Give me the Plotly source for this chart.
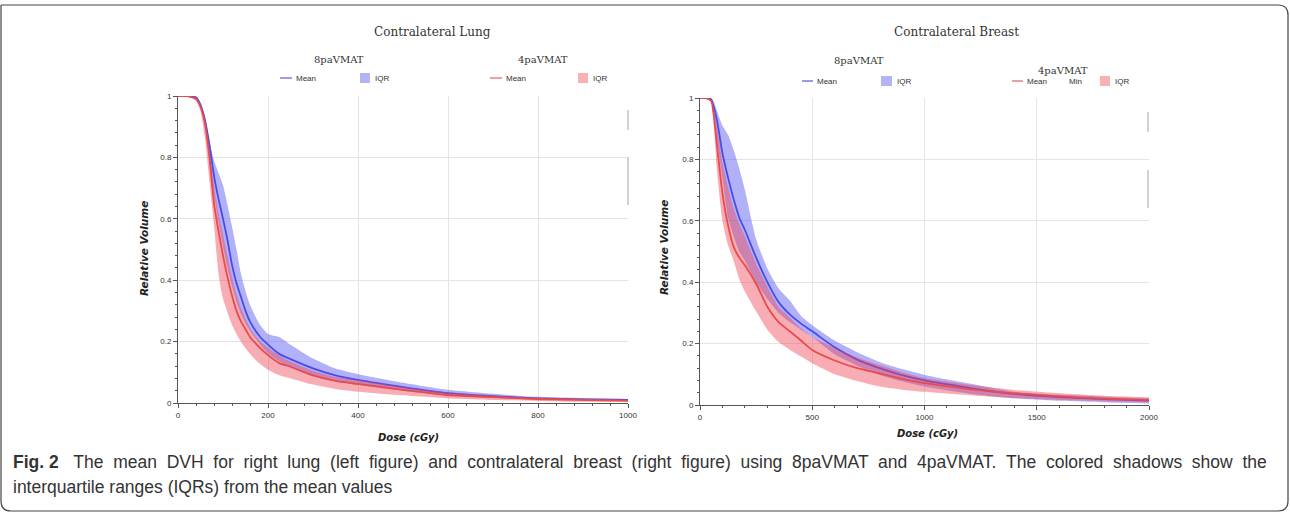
import plotly.graph_objects as go

# ---------------- data ----------------
lung_dose = [0, 20, 40, 50, 60, 70, 80, 90, 100, 110, 120, 130, 140, 150, 160, 180, 200,
             225, 250, 300, 350, 400, 500, 600, 700, 800, 900, 1000]
lung_8pa_mean = [1, 1, 0.995, 0.97, 0.92, 0.84, 0.74, 0.665, 0.60, 0.53, 0.45, 0.39, 0.345, 0.30,
                 0.265, 0.22, 0.19, 0.16, 0.143, 0.113, 0.09, 0.075, 0.052, 0.032, 0.022, 0.015, 0.012, 0.01]
lung_8pa_q1 = [1, 1, 0.99, 0.965, 0.9, 0.79, 0.68, 0.59, 0.51, 0.44, 0.38, 0.33, 0.29, 0.26,
               0.235, 0.195, 0.162, 0.135, 0.118, 0.092, 0.072, 0.059, 0.04, 0.025, 0.016, 0.011, 0.008, 0.006]
lung_8pa_q3 = [1, 1, 1, 0.98, 0.935, 0.85, 0.79, 0.75, 0.71, 0.645, 0.575, 0.50, 0.42, 0.365,
               0.32, 0.26, 0.225, 0.215, 0.19, 0.145, 0.112, 0.094, 0.066, 0.043, 0.03, 0.02, 0.016, 0.013]
lung_4pa_mean = [1, 1, 0.99, 0.965, 0.91, 0.8, 0.65, 0.56, 0.48, 0.41, 0.35, 0.30, 0.265, 0.24,
                 0.215, 0.183, 0.156, 0.13, 0.118, 0.09, 0.072, 0.062, 0.043, 0.026, 0.019, 0.013, 0.01, 0.008]
lung_4pa_q1 = [1, 1, 0.985, 0.95, 0.86, 0.72, 0.58, 0.42, 0.34, 0.295, 0.255, 0.225, 0.2, 0.178,
               0.16, 0.13, 0.108, 0.09, 0.08, 0.06, 0.046, 0.037, 0.025, 0.015, 0.01, 0.006, 0.004, 0.003]
lung_4pa_q3 = [1, 1, 0.995, 0.97, 0.92, 0.82, 0.71, 0.62, 0.55, 0.48, 0.41, 0.355, 0.31, 0.275,
               0.245, 0.205, 0.18, 0.155, 0.135, 0.105, 0.085, 0.075, 0.052, 0.034, 0.024, 0.017, 0.013, 0.01]

breast_dose = [0, 25, 50, 60, 75, 100, 125, 150, 175, 200, 250, 300, 350, 400, 450, 500, 600,
               700, 800, 900, 1000, 1200, 1400, 1600, 1800, 2000]
breast_8pa_mean = [1, 1, 0.995, 0.975, 0.93, 0.82, 0.74, 0.67, 0.61, 0.57, 0.48, 0.40, 0.335, 0.295,
                   0.265, 0.24, 0.188, 0.148, 0.12, 0.097, 0.08, 0.056, 0.036, 0.026, 0.019, 0.014]
breast_8pa_q1 = [1, 1, 0.99, 0.96, 0.87, 0.74, 0.61, 0.55, 0.5, 0.47, 0.4, 0.345, 0.30, 0.27,
                 0.245, 0.222, 0.165, 0.128, 0.098, 0.077, 0.06, 0.037, 0.022, 0.014, 0.009, 0.005]
breast_8pa_q3 = [1, 1, 1, 0.99, 0.96, 0.91, 0.88, 0.83, 0.77, 0.70, 0.54, 0.445, 0.38, 0.34,
                 0.29, 0.26, 0.21, 0.172, 0.14, 0.117, 0.098, 0.07, 0.043, 0.033, 0.027, 0.022]
breast_4pa_mean = [1, 1, 0.99, 0.95, 0.85, 0.69, 0.585, 0.515, 0.48, 0.455, 0.395, 0.32, 0.27, 0.24,
                   0.21, 0.179, 0.145, 0.12, 0.103, 0.085, 0.071, 0.052, 0.038, 0.028, 0.021, 0.016]
breast_4pa_q1 = [1, 1, 0.985, 0.93, 0.77, 0.6, 0.52, 0.47, 0.41, 0.37, 0.305, 0.245, 0.205, 0.18,
                 0.158, 0.136, 0.1, 0.078, 0.06, 0.05, 0.043, 0.032, 0.022, 0.016, 0.012, 0.009]
breast_4pa_q3 = [1, 1, 0.995, 0.97, 0.91, 0.79, 0.71, 0.64, 0.59, 0.55, 0.46, 0.385, 0.32, 0.285,
                 0.25, 0.222, 0.185, 0.155, 0.13, 0.107, 0.088, 0.066, 0.049, 0.038, 0.03, 0.025]

chart_titles = ["Contralateral Lung", "Contralateral Breast"]
group_names = ["8paVMAT", "4paVMAT"]
x_title = "Dose (cGy)"
y_title = "Relative Volume"
caption_bold = "Fig. 2"
caption_line1 = ("The mean DVH for right lung (left figure) and contralateral breast (right figure) "
                 "using 8paVMAT and 4paVMAT. The colored shadows show the")
caption_line2 = "interquartile ranges (IQRs) from the mean values"

# ---------------- styling ----------------
W, H = 1290, 514
BLUE_LINE = "#4b4be8"
RED_LINE = "#e84b4b"
BLUE_FILL = "rgba(85,85,245,0.46)"
RED_FILL = "rgba(240,72,88,0.45)"


def fx(px):
    return px / W


def fy(py):
    return 1 - py / H


fig = go.Figure()


def add_group(dose, mean, q1, q3, line_col, fill_col, xa, ya, name):
    fig.add_trace(go.Scatter(x=dose, y=q1, mode="lines", line=dict(width=0, shape="spline", smoothing=0.6),
                             hoverinfo="skip", showlegend=False, xaxis=xa, yaxis=ya, name=name + " Q1"))
    fig.add_trace(go.Scatter(x=dose, y=q3, mode="lines", line=dict(width=0, shape="spline", smoothing=0.6),
                             fill="tonexty", fillcolor=fill_col, showlegend=False, xaxis=xa, yaxis=ya,
                             name=name + " IQR"))
    fig.add_trace(go.Scatter(x=dose, y=mean, mode="lines",
                             line=dict(width=1.8, color=line_col, shape="spline", smoothing=0.6),
                             showlegend=False, xaxis=xa, yaxis=ya, name=name + " Mean"))


add_group(lung_dose, lung_8pa_mean, lung_8pa_q1, lung_8pa_q3, BLUE_LINE, BLUE_FILL, "x", "y", "8paVMAT")
add_group(lung_dose, lung_4pa_mean, lung_4pa_q1, lung_4pa_q3, RED_LINE, RED_FILL, "x", "y", "4paVMAT")
add_group(breast_dose, breast_8pa_mean, breast_8pa_q1, breast_8pa_q3, BLUE_LINE, BLUE_FILL, "x2", "y2", "8paVMAT")
add_group(breast_dose, breast_4pa_mean, breast_4pa_q1, breast_4pa_q3, RED_LINE, RED_FILL, "x2", "y2", "4paVMAT")

tick_font = dict(family="Liberation Sans, Arial, sans-serif", size=8, color="#333")
axis_common = dict(showgrid=True, gridcolor="#e4e4e4", gridwidth=1, zeroline=False,
                   showline=True, linecolor="#555", linewidth=1, ticks="outside", ticklen=4,
                   tickcolor="#555", tickfont=tick_font, automargin=False, fixedrange=True)

fig.update_layout(
    width=W, height=H,
    margin=dict(l=0, r=0, t=0, b=0),
    paper_bgcolor="white", plot_bgcolor="white",
    xaxis=dict(domain=[fx(178), fx(628)], range=[0, 1000], dtick=200, anchor="y",
               minor=dict(dtick=40, ticks="outside", ticklen=2, tickcolor="#555", showgrid=False),
               **axis_common),
    yaxis=dict(domain=[fy(403), fy(96)], range=[0, 1], dtick=0.2, anchor="x",
               minor=dict(dtick=0.04, ticks="outside", ticklen=2, tickcolor="#555", showgrid=False),
               **axis_common),
    xaxis2=dict(domain=[fx(700), fx(1149)], range=[0, 2000], dtick=500, anchor="y2",
                minor=dict(dtick=100, ticks="outside", ticklen=2, tickcolor="#555", showgrid=False),
                **axis_common),
    yaxis2=dict(domain=[fy(405), fy(98)], range=[0, 1], dtick=0.2, anchor="x2",
                minor=dict(dtick=0.04, ticks="outside", ticklen=2, tickcolor="#555", showgrid=False),
                **axis_common),
)

annotations = []
shapes = []

serif = "DejaVu Serif, Liberation Serif, serif"
sans = "Liberation Sans, Arial, sans-serif"


def text(px, py, s, size, family=sans, xanchor="center", color="#333", **kw):
    annotations.append(dict(x=fx(px), y=fy(py), xref="paper", yref="paper", text=s, showarrow=False,
                            xanchor=xanchor, yanchor="middle", font=dict(family=family, size=size, color=color),
                            **kw))


# titles
text(432, 32, chart_titles[0], 12, serif)
text(956, 32, chart_titles[1], 12, serif)
text(339, 59, group_names[0], 10, serif)
text(543, 59, group_names[1], 10, serif)
text(859, 60, group_names[0], 10, serif)
text(1063, 71, group_names[1], 10, serif)


# legends
def leg_line(x0, x1, y, col):
    shapes.append(dict(type="line", xref="paper", yref="paper", x0=fx(x0), x1=fx(x1), y0=fy(y), y1=fy(y),
                       line=dict(color=col, width=1.5)))


def leg_box(x0, x1, y, col):
    shapes.append(dict(type="rect", xref="paper", yref="paper", x0=fx(x0), x1=fx(x1), y0=fy(y + 5), y1=fy(y - 5),
                       fillcolor=col, line=dict(width=0)))


LEG_BLUE = "#7b7be6"
LEG_RED = "#e88080"
BOX_BLUE = "#b3b3f7"
BOX_RED = "#f5b3b3"

leg_line(280, 292, 78, LEG_BLUE); text(294, 78, "Mean", 8, xanchor="left")
leg_box(360, 370, 78, BOX_BLUE); text(373, 78, "IQR", 8, xanchor="left")
leg_line(490, 502, 78, LEG_RED); text(504, 78, "Mean", 8, xanchor="left")
leg_box(578, 588, 78, BOX_RED); text(591, 78, "IQR", 8, xanchor="left")

leg_line(802, 813, 81, LEG_BLUE); text(815, 81, "Mean", 8, xanchor="left")
leg_box(881, 892, 81, BOX_BLUE); text(895, 81, "IQR", 8, xanchor="left")
leg_line(1012, 1023, 81, LEG_RED); text(1025, 81, "Mean", 8, xanchor="left")
text(1067, 81, "Min", 8, xanchor="left")
leg_box(1100, 1110, 81, BOX_RED); text(1113, 81, "IQR", 8, xanchor="left")

# axis titles
ax_font = "DejaVu Sans, Liberation Sans, sans-serif"
for (px, py) in [(144, 249), (664, 248)]:
    annotations.append(dict(x=fx(px), y=fy(py), xref="paper", yref="paper", text="<b><i>" + y_title + "</i></b>",
                            showarrow=False, textangle=-90, xanchor="center", yanchor="middle",
                            font=dict(family=ax_font, size=10.5, color="#222")))
for (px, py) in [(408, 437), (927, 433)]:
    annotations.append(dict(x=fx(px), y=fy(py), xref="paper", yref="paper", text="<b><i>" + x_title + "</i></b>",
                            showarrow=False, xanchor="center", yanchor="middle",
                            font=dict(family=ax_font, size=10, color="#222")))

# caption (first line justified by widening word gaps)
cap_font = "Liberation Sans, Arial, sans-serif"
line1_justified = " &nbsp;".join(caption_line1.split(" "))
annotations.append(dict(x=fx(11), y=fy(462), xref="paper", yref="paper",
                        text="<b>" + caption_bold + "</b> &nbsp;&nbsp;" + line1_justified,
                        showarrow=False, xanchor="left", yanchor="middle",
                        font=dict(family=cap_font, size=17.5, color="#333")))
annotations.append(dict(x=fx(11), y=fy(487), xref="paper", yref="paper", text=caption_line2,
                        showarrow=False, xanchor="left", yanchor="middle",
                        font=dict(family=cap_font, size=17.5, color="#333")))

# screen artefacts (light gray bars at right plot edges)
for (px, a, b) in [(628, 110, 130), (628, 157, 205), (1148, 112, 132), (1148, 170, 208)]:
    shapes.append(dict(type="line", xref="paper", yref="paper", x0=fx(px), x1=fx(px), y0=fy(a), y1=fy(b),
                       line=dict(color="#d2d2d2", width=2)))

# figure frame with rounded corners
r = 10
x0, x1, y0, y1 = 1, 1288, 5, 511
path = (f"M {fx(x0)},{fy(y0)} L {fx(x1 - r)},{fy(y0)} Q {fx(x1)},{fy(y0)} {fx(x1)},{fy(y0 + r)} "
        f"L {fx(x1)},{fy(y1 - r)} Q {fx(x1)},{fy(y1)} {fx(x1 - r)},{fy(y1)} "
        f"L {fx(x0 + r)},{fy(y1)} Q {fx(x0)},{fy(y1)} {fx(x0)},{fy(y1 - r)} L {fx(x0)},{fy(y0)}")
shapes.append(dict(type="path", xref="paper", yref="paper", path=path, line=dict(color="#444", width=1.2)))

fig.update_layout(annotations=annotations, shapes=shapes)

fig.write_html("out.html", config={"displayModeBar": False},
               post_script="document.body.style.margin='0';")
